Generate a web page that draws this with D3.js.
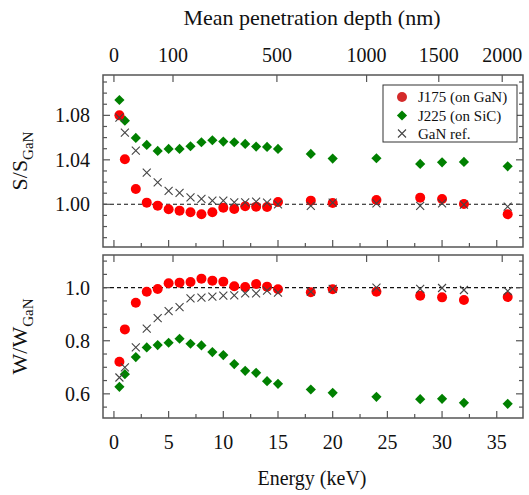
<!DOCTYPE html>
<html lang="en">
<head>
    <meta charset="UTF-8">
    <title>S and W parameters vs energy</title>
    <script src="https://d3js.org/d3.v7.min.js"></script>
    <style>
        body { margin: 0; background: white; }
        svg text { font-family: "Liberation Serif", "Times New Roman", Times, "DejaVu Serif", "Noto Serif", serif; fill: #111; }
        .frame { fill: none; stroke: #555; stroke-width: 1.5; }
        .tick { stroke: #555; stroke-width: 1.2; }
        .ref-line { stroke: #111; stroke-width: 1.1; stroke-dasharray: 4,3; }
    </style>
</head>
<body>
    <div id="chart"></div>
    <script>
        // energies (keV)
        const energy = [0.5, 1, 2, 3, 4, 5, 6, 7, 8, 9, 10, 11, 12, 13, 14, 15, 18, 20, 24, 28, 30, 32, 36];

        // S / S_GaN
        const sJ175 = [1.080, 1.0405, 1.0138, 1.0015, 0.9988, 0.9955, 0.9943, 0.9928, 0.991, 0.9928, 0.997, 0.9958,
                       0.9982, 0.9979, 0.9976, 1.0021, 1.0033, 1.0012, 1.0039, 1.006, 1.0048, 1.0003, 0.991];
        const sJ225 = [1.0938, 1.0752, 1.0597, 1.0534, 1.048, 1.0498, 1.0498, 1.0522, 1.0558, 1.0576, 1.0564, 1.0558,
                       1.0543, 1.0519, 1.0516, 1.0498, 1.0453, 1.0411, 1.0414, 1.0363, 1.0378, 1.0381, 1.0342];
        const sRef  = [1.078, 1.0644, 1.0483, 1.0285, 1.0198, 1.012, 1.0102, 1.0063, 1.0048, 1.0033, 1.0033, 1.0018,
                       1.0018, 1.0024, 1.0015, 1.0, 0.9985, 1.0015, 1.0009, 0.9985, 1.0009, 0.9997, 0.9979];

        // W / W_GaN
        const wJ175 = [0.7208, 0.8428, 0.9434, 0.9849, 0.995, 1.0164, 1.0189, 1.0214, 1.034, 1.0264, 1.0226, 1.005,
                       1.0025, 1.0138, 1.0038, 0.9937, 0.9824, 0.9937, 0.9849, 0.9698, 0.9635, 0.9535, 0.9648];
        const wJ225 = [0.6264, 0.6742, 0.7384, 0.7748, 0.7836, 0.7925, 0.8075, 0.7887, 0.7824, 0.7572, 0.7459, 0.712,
                       0.6868, 0.6792, 0.6478, 0.6377, 0.6164, 0.6038, 0.5887, 0.5799, 0.5811, 0.566, 0.5623];
        const wRef  = [0.6616, 0.6994, 0.7748, 0.8453, 0.8855, 0.9119, 0.927, 0.9597, 0.9623, 0.966, 0.9698, 0.9711,
                       0.9786, 0.9786, 0.9887, 0.9811, 0.9849, 0.995, 1.0, 0.995, 0.9987, 0.9912, 0.9874];

        // top axis: mean penetration depth labels and the energies they sit at
        const depthLabels = [0, 100, 500, 1000, 1500, 2000];
        const depthAtEnergy = [0, 5.4, 14.9, 23.1, 29.7, 35.5];

        const energyTicks = [0, 5, 10, 15, 20, 25, 30, 35];
        const sTicks = [1.00, 1.04, 1.08];
        const wTicks = [0.6, 0.8, 1.0];

        const seriesNames = ["J175 (on GaN)", "J225 (on SiC)", "GaN ref."];

        const W = 529, H = 495;
        const left = 103, right = 523;
        const serif = "'Liberation Serif', 'Times New Roman', Times, 'DejaVu Serif', serif";

        const svg = d3.select("#chart").append("svg")
            .attr("width", W).attr("height", H)
            .attr("font-family", serif);

        const x = d3.scaleLinear().domain([-1, 37.4]).range([left, right]);

        const panels = [
            { top: 75, bottom: 247, domain: [0.9616, 1.1163], major: sTicks, minorStep: 0.01,
              fmt: d3.format(".2f"), data: [sJ225, sJ175, sRef], label: ["S/S", "GaN"] },
            { top: 255, bottom: 418, domain: [0.509, 1.123], major: wTicks, minorStep: 0.05,
              fmt: d3.format(".1f"), data: [wJ225, wJ175, wRef], label: ["W/W", "GaN"] }
        ];

        const xMinor = d3.range(0, 37.5, 2.5);
        const diamond = d3.symbol().type(d3.symbolSquare).size(52);
        const cross = "M-4,-4L4,4M-4,4L4,-4";

        panels.forEach(p => {
            const y = d3.scaleLinear().domain(p.domain).range([p.bottom, p.top]);
            const g = svg.append("g");

            // reference line at 1
            g.append("line").attr("class", "ref-line")
                .attr("x1", left).attr("x2", right)
                .attr("y1", y(1)).attr("y2", y(1));

            // y ticks (left + right, inward)
            const yMinor = d3.range(Math.ceil(p.domain[0] / p.minorStep) * p.minorStep, p.domain[1], p.minorStep);
            yMinor.forEach(v => {
                const isMajor = p.major.some(m => Math.abs(m - v) < 1e-6);
                const len = isMajor ? 7 : 4;
                g.append("line").attr("class", "tick")
                    .attr("x1", left).attr("x2", left + len).attr("y1", y(v)).attr("y2", y(v));
                g.append("line").attr("class", "tick")
                    .attr("x1", right).attr("x2", right - len).attr("y1", y(v)).attr("y2", y(v));
            });
            p.major.forEach(v => {
                g.append("text")
                    .attr("x", 90).attr("y", y(v)).attr("dy", "0.35em")
                    .attr("text-anchor", "end").attr("font-size", 20)
                    .text(p.fmt(v));
            });

            // bottom edge energy ticks
            xMinor.forEach(v => {
                const len = v % 5 === 0 ? 7 : 4;
                g.append("line").attr("class", "tick")
                    .attr("x1", x(v)).attr("x2", x(v)).attr("y1", p.bottom).attr("y2", p.bottom - len);
            });
            // top edge depth ticks
            depthAtEnergy.forEach(e => {
                g.append("line").attr("class", "tick")
                    .attr("x1", x(e)).attr("x2", x(e)).attr("y1", p.top).attr("y2", p.top + 7);
            });

            // markers
            g.selectAll(".j225").data(energy).enter().append("path")
                .attr("d", diamond)
                .attr("transform", (d, i) => `translate(${x(d)},${y(p.data[0][i])}) rotate(45)`)
                .attr("fill", "#008000");
            g.selectAll(".j175").data(energy).enter().append("circle")
                .attr("cx", d => x(d)).attr("cy", (d, i) => y(p.data[1][i]))
                .attr("r", 5).attr("fill", "#ff0000");
            g.selectAll(".ref").data(energy).enter().append("path")
                .attr("d", cross)
                .attr("transform", (d, i) => `translate(${x(d)},${y(p.data[2][i])})`)
                .attr("stroke", "#444").attr("stroke-width", 1.1).attr("fill", "none");

            g.append("rect").attr("class", "frame")
                .attr("x", left).attr("y", p.top)
                .attr("width", right - left).attr("height", p.bottom - p.top);

            // y label
            const cy = (p.top + p.bottom) / 2;
            const lab = svg.append("text")
                .attr("transform", `translate(27,${cy}) rotate(-90)`)
                .attr("text-anchor", "middle").attr("font-size", 22);
            lab.append("tspan").text(p.label[0]);
            lab.append("tspan").attr("font-size", 15).attr("dy", 6).text(p.label[1]);
        });

        // bottom energy labels
        energyTicks.forEach(v => {
            svg.append("text").attr("x", x(v)).attr("y", 442).attr("dy", "0.35em")
                .attr("text-anchor", "middle").attr("font-size", 20).text(v);
        });
        svg.append("text").attr("x", 312).attr("y", 478).attr("dy", "0.35em")
            .attr("text-anchor", "middle").attr("font-size", 20).text("Energy (keV)");

        // top depth labels
        depthLabels.forEach((d, i) => {
            svg.append("text").attr("x", x(depthAtEnergy[i])).attr("y", 55).attr("dy", "0.35em")
                .attr("text-anchor", "middle").attr("font-size", 20).text(d);
        });
        svg.append("text").attr("x", 312).attr("y", 17).attr("dy", "0.35em")
            .attr("text-anchor", "middle").attr("font-size", 22).text("Mean penetration depth (nm)");

        // legend
        const lg = svg.append("g");
        lg.append("rect").attr("x", 383).attr("y", 85).attr("width", 134).attr("height", 57)
            .attr("fill", "white").attr("stroke", "#333").attr("stroke-width", 1);
        const rows = [97, 115.5, 133.5];
        lg.append("circle").attr("cx", 402).attr("cy", rows[0]).attr("r", 5).attr("fill", "#d42a2a");
        lg.append("path").attr("d", diamond)
            .attr("transform", `translate(402,${rows[1]}) rotate(45)`).attr("fill", "#008000");
        lg.append("path").attr("d", cross)
            .attr("transform", `translate(402,${rows[2]})`)
            .attr("stroke", "#444").attr("stroke-width", 1.1).attr("fill", "none");
        seriesNames.forEach((n, i) => {
            lg.append("text").attr("x", 418).attr("y", rows[i]).attr("dy", "0.35em")
                .attr("font-size", 15).text(n);
        });
    </script>
</body>
</html>
